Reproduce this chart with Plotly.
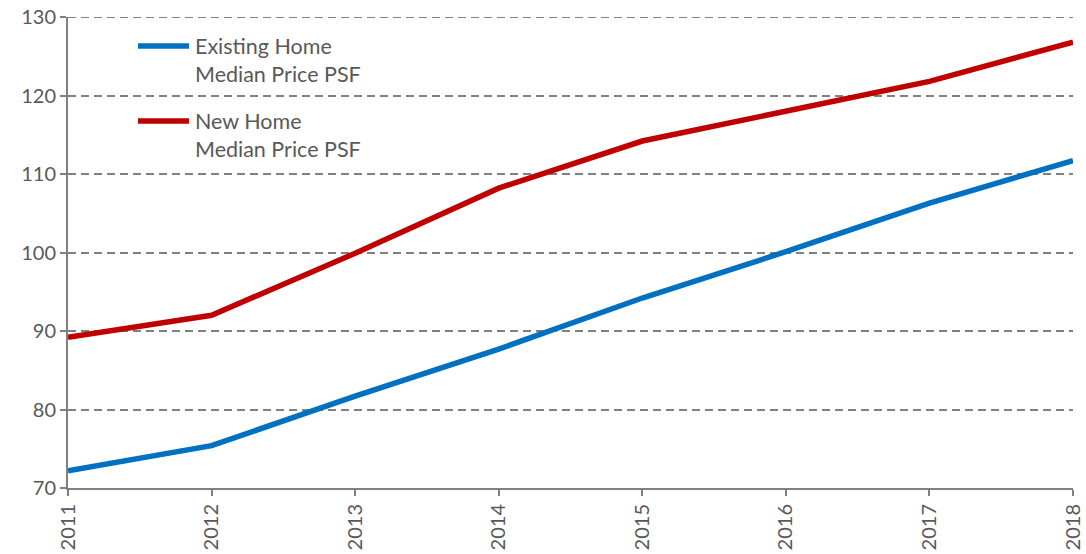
import plotly.graph_objects as go

years = [2011, 2012, 2013, 2014, 2015, 2016, 2017, 2018]
existing = [72.2, 75.4, 81.7, 87.7, 94.2, 100.1, 106.3, 111.7]
new_home = [89.2, 92.0, 99.9, 108.2, 114.2, 118.0, 121.8, 126.8]
y_ticks = [70, 80, 90, 100, 110, 120, 130]
series_names = ["Existing Home<br>Median Price PSF", "New Home<br>Median Price PSF"]
colors = ["#0070C0", "#C00000"]

font_fam = "Lato, 'Open Sans', sans-serif"
grey_text = "#595959"

fig = go.Figure()
for vals, name, col in zip([existing, new_home], series_names, colors):
    fig.add_trace(go.Scatter(x=years, y=vals, mode="lines", name=name,
                             line=dict(color=col, width=5.5), showlegend=False))

# custom legend (paper coords)
W, H = 1086, 554
ml, mr, mt, mb = 68, 13, 17, 66
pw, ph = W - ml - mr, H - mt - mb
def px(x):
    return (x - ml) / pw
def py(y):
    return 1 - (y - mt) / ph

for i, (name, col) in enumerate(zip(series_names, colors)):
    yc = 46 + i * 75
    fig.add_shape(type="line", xref="paper", yref="paper",
                  x0=px(138), x1=px(189), y0=py(yc), y1=py(yc),
                  line=dict(color=col, width=5.5))
    fig.add_annotation(xref="paper", yref="paper", x=px(193), y=py(yc - 15),
                       xanchor="left", yanchor="top", align="left",
                       text=name, showarrow=False,
                       font=dict(size=21.5, color=grey_text, family=font_fam))

# top gridline at 130
fig.add_shape(type="line", xref="paper", yref="y", x0=0, x1=1, y0=130, y1=130,
              line=dict(color="#808080", width=2, dash="8px,5px"), layer="below")

fig.update_layout(
    width=W, height=H,
    margin=dict(l=ml, r=mr, t=mt, b=mb),
    plot_bgcolor="white", paper_bgcolor="white",
    font=dict(family=font_fam, color=grey_text, size=20),
    showlegend=False,
)
fig.update_xaxes(
    range=[2011, 2018], tickvals=years, ticktext=[str(y) for y in years],
    tickangle=-90, ticks="outside", ticklen=6, tickcolor="#808080", tickwidth=2,
    showline=True, linecolor="#808080", linewidth=2, showgrid=False,
    zeroline=False, tickfont=dict(size=20, color=grey_text), automargin=False,
)
fig.update_yaxes(
    range=[70, 130], tickvals=y_ticks, ticks="outside", ticklen=6,
    tickcolor="#808080", tickwidth=2, showline=True, linecolor="#808080", linewidth=2,
    showgrid=True, gridcolor="#808080", griddash="8px,5px", gridwidth=2,
    zeroline=False, tickfont=dict(size=20, color=grey_text), automargin=False,
)

fig.write_html("out.html", config={"displayModeBar": False},
               post_script="document.body.style.margin='0';document.body.style.overflow='hidden';")
